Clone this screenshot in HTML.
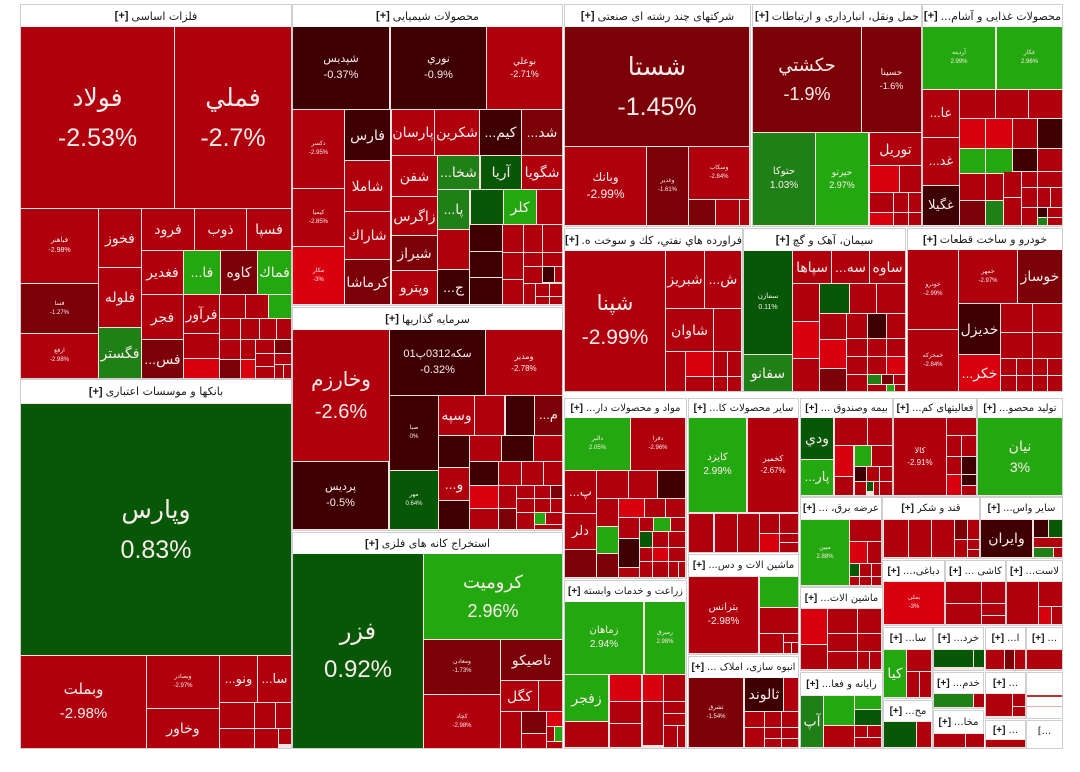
<!DOCTYPE html>
<html><head><meta charset="utf-8">
<style>
body{margin:0;width:1080px;height:772px;background:#fff;position:relative;overflow:hidden;font-family:"Liberation Sans","DejaVu Sans",sans-serif}
.s{position:absolute;box-sizing:border-box;border:1px solid #cfcfcf;background:#f8e2e2}
.h{position:absolute;background:#fff;color:#1a1a1a;font-size:11px;display:flex;justify-content:center;align-items:center;gap:3px;white-space:nowrap;overflow:hidden;font-family:"DejaVu Sans","Liberation Sans",sans-serif}
.h b{font-weight:bold;font-family:"Liberation Sans",sans-serif;flex-shrink:0}
.h bdi{min-width:0;overflow:hidden;white-space:nowrap}
.h2{font-size:10px}
.t{position:absolute;display:flex;flex-direction:column;align-items:center;justify-content:center;color:#fbecec;text-align:center;white-space:nowrap;overflow:hidden;line-height:1.45;font-size:14px}
.t span{display:block}
.L{line-height:1.6}
.r{background:#b0000d}.d{background:#7c0008}.k{background:#3e0003}.b{background:#d9000f}.g{background:#24a80f}.m{background:#1e8016}.n{background:#065806}
</style></head><body>

<!-- sections -->
<div class="s" style="left:20px;top:4px;width:272px;height:375px"></div>
<div class="h" style="left:21px;top:5px;width:270px;height:22px"><b>[+]</b> <bdi>فلزات اساسی</bdi></div>
<div class="s" style="left:20px;top:379px;width:272px;height:370px"></div>
<div class="h" style="left:21px;top:380px;width:270px;height:23px"><b>[+]</b> <bdi>بانکها و موسسات اعتباری</bdi></div>
<div class="s" style="left:292px;top:4px;width:271px;height:302px"></div>
<div class="h" style="left:293px;top:5px;width:269px;height:22px"><b>[+]</b> <bdi>محصولات شیمیایی</bdi></div>
<div class="s" style="left:292px;top:307px;width:271px;height:224px"></div>
<div class="h" style="left:293px;top:308px;width:269px;height:22px"><b>[+]</b> <bdi>سرمایه گذاریها</bdi></div>
<div class="s" style="left:292px;top:532px;width:271px;height:217px"></div>
<div class="h" style="left:293px;top:533px;width:269px;height:21px"><b>[+]</b> <bdi>استخراج کانه های فلزی</bdi></div>
<div class="s" style="left:564px;top:4px;width:187px;height:223px"></div>
<div class="h" style="left:565px;top:5px;width:185px;height:22px"><b>[+]</b> <bdi>شرکتهای چند رشته ای صنعتی</bdi></div>
<div class="s" style="left:752px;top:4px;width:170px;height:223px"></div>
<div class="h" style="left:753px;top:5px;width:168px;height:22px"><b>[+]</b> <bdi>حمل ونقل، انبارداری و ارتباطات</bdi></div>
<div class="s" style="left:922px;top:4px;width:141px;height:223px"></div>
<div class="h" style="left:923px;top:5px;width:139px;height:22px"><b>[+]</b> <bdi>محصولات غذایی و آشام...</bdi></div>
<div class="s" style="left:564px;top:228px;width:179px;height:164px"></div>
<div class="h" style="left:565px;top:229px;width:177px;height:22px"><b>[+]</b> <bdi>فراورده هاي نفتي، كك و سوخت ه...</bdi></div>
<div class="s" style="left:743px;top:228px;width:163px;height:164px"></div>
<div class="h" style="left:744px;top:229px;width:161px;height:22px"><b>[+]</b> <bdi>سیمان، آهک و گچ</bdi></div>
<div class="s" style="left:907px;top:228px;width:156px;height:164px"></div>
<div class="h" style="left:908px;top:229px;width:154px;height:21px"><b>[+]</b> <bdi>خودرو و ساخت قطعات</bdi></div>
<div class="s" style="left:564px;top:398px;width:123px;height:181px"></div>
<div class="h h2" style="left:565px;top:399px;width:121px;height:19px"><b>[+]</b> <bdi>مواد و محصولات دار...</bdi></div>
<div class="s" style="left:688px;top:398px;width:111px;height:155px"></div>
<div class="h h2" style="left:689px;top:399px;width:109px;height:19px"><b>[+]</b> <bdi>سایر محصولات کا...</bdi></div>
<div class="s" style="left:688px;top:554px;width:111px;height:101px"></div>
<div class="h h2" style="left:689px;top:555px;width:109px;height:21px"><b>[+]</b> <bdi>ماشین آلات و دس...</bdi></div>
<div class="s" style="left:688px;top:656px;width:111px;height:93px"></div>
<div class="h h2" style="left:689px;top:657px;width:109px;height:21px"><b>[+]</b> <bdi>انبوه سازی، املاک ...</bdi></div>
<div class="s" style="left:564px;top:580px;width:123px;height:169px"></div>
<div class="h h2" style="left:565px;top:581px;width:121px;height:21px"><b>[+]</b> <bdi>زراعت و خدمات وابسته</bdi></div>
<div class="s" style="left:800px;top:398px;width:93px;height:99px"></div>
<div class="h h2" style="left:801px;top:399px;width:91px;height:19px"><b>[+]</b> <bdi>بیمه وصندوق ...</bdi></div>
<div class="s" style="left:893px;top:398px;width:84px;height:99px"></div>
<div class="h h2" style="left:894px;top:399px;width:82px;height:19px"><b>[+]</b> <bdi>فعالیتهای کم...</bdi></div>
<div class="s" style="left:977px;top:398px;width:86px;height:99px"></div>
<div class="h h2" style="left:978px;top:399px;width:84px;height:19px"><b>[+]</b> <bdi>تولید محصو...</bdi></div>
<div class="s" style="left:800px;top:497px;width:82px;height:90px"></div>
<div class="h h2" style="left:801px;top:498px;width:80px;height:21px"><b>[+]</b> <bdi>عرضه برق، ...</bdi></div>
<div class="s" style="left:882px;top:497px;width:98px;height:62px"></div>
<div class="h h2" style="left:883px;top:498px;width:96px;height:21px"><b>[+]</b> <bdi>قند و شکر</bdi></div>
<div class="s" style="left:980px;top:497px;width:83px;height:62px"></div>
<div class="h h2" style="left:981px;top:498px;width:81px;height:21px"><b>[+]</b> <bdi>سایر واس...</bdi></div>
<div class="s" style="left:882px;top:560px;width:63px;height:66px"></div>
<div class="h h2" style="left:883px;top:561px;width:61px;height:20px"><b>[+]</b> <bdi>دباغی،...</bdi></div>
<div class="s" style="left:945px;top:560px;width:61px;height:66px"></div>
<div class="h h2" style="left:946px;top:561px;width:59px;height:20px"><b>[+]</b> <bdi>کاشی ...</bdi></div>
<div class="s" style="left:1006px;top:560px;width:57px;height:66px"></div>
<div class="h h2" style="left:1007px;top:561px;width:55px;height:20px"><b>[+]</b> <bdi>لاست...</bdi></div>
<div class="s" style="left:800px;top:587px;width:83px;height:84px"></div>
<div class="h h2" style="left:801px;top:588px;width:81px;height:20px"><b>[+]</b> <bdi>ماشین آلات...</bdi></div>
<div class="s" style="left:800px;top:672px;width:83px;height:77px"></div>
<div class="h h2" style="left:801px;top:673px;width:81px;height:22px"><b>[+]</b> <bdi>رایانه و فعا...</bdi></div>
<div class="s" style="left:883px;top:627px;width:50px;height:72px"></div>
<div class="h h2" style="left:884px;top:628px;width:48px;height:21px"><b>[+]</b> <bdi>سا...</bdi></div>
<div class="s" style="left:933px;top:627px;width:51px;height:44px"></div>
<div class="h h2" style="left:934px;top:628px;width:49px;height:21px"><b>[+]</b> <bdi>خرد...</bdi></div>
<div class="s" style="left:985px;top:627px;width:41px;height:44px"></div>
<div class="h h2" style="left:986px;top:628px;width:39px;height:21px"><b>[+]</b> <bdi>ا...</bdi></div>
<div class="s" style="left:1026px;top:627px;width:37px;height:44px"></div>
<div class="h h2" style="left:1027px;top:628px;width:35px;height:21px"><b>[+]</b> ...</div>
<div class="s" style="left:933px;top:672px;width:51px;height:37px"></div>
<div class="h h2" style="left:934px;top:673px;width:49px;height:20px"><b>[+]</b> <bdi>خدم...</bdi></div>
<div class="s" style="left:985px;top:672px;width:41px;height:47px"></div>
<div class="h h2" style="left:986px;top:673px;width:39px;height:20px"><b>[+]</b> ...</div>
<div class="s" style="left:1026px;top:672px;width:37px;height:47px;background:#fff"></div>
<div style="position:absolute;left:1027px;top:695px;width:35px;height:2px;background:#c03030"></div>
<div style="position:absolute;left:1027px;top:706px;width:35px;height:1px;background:#e0b0b0"></div>
<div class="s" style="left:883px;top:700px;width:50px;height:49px"></div>
<div class="h h2" style="left:884px;top:701px;width:48px;height:20px"><b>[+]</b> <bdi>مح...</bdi></div>
<div class="s" style="left:933px;top:710px;width:51px;height:39px"></div>
<div class="h h2" style="left:934px;top:711px;width:49px;height:22px"><b>[+]</b> <bdi>مخا...</bdi></div>
<div class="s" style="left:985px;top:720px;width:41px;height:29px"></div>
<div class="h h2" style="left:986px;top:721px;width:39px;height:18px"><b>[+]</b> ...</div>
<div class="s" style="left:1026px;top:720px;width:37px;height:29px;background:#fff"></div>
<div class="h h2" style="left:1027px;top:721px;width:35px;height:20px">[...</div>

<!-- S1 فلزات اساسی -->
<div class="t r L" style="left:21px;top:27px;width:153px;height:181px;font-size:25px"><span>فولاد</span><span>-2.53%</span></div>
<div class="t r L" style="left:175px;top:27px;width:116px;height:181px;font-size:25px"><span>فملي</span><span>-2.7%</span></div>
<div class="t r" style="left:21px;top:209px;width:77px;height:74px;font-size:7px"><span>فباهنر</span><span>-2.98%</span></div>
<div class="t d" style="left:21px;top:284px;width:77px;height:49px;font-size:6px"><span>فسا</span><span>-1.27%</span></div>
<div class="t r" style="left:21px;top:334px;width:77px;height:44px;font-size:6px"><span>ارفع</span><span>-2.98%</span></div>
<div class="t r" style="left:99px;top:209px;width:42px;height:58px"><span>فخوز</span></div>
<div class="t r" style="left:99px;top:268px;width:42px;height:59px"><span>فلوله</span></div>
<div class="t m" style="left:99px;top:328px;width:42px;height:50px"><span>فگستر</span></div>
<div class="t r" style="left:142px;top:209px;width:52px;height:41px"><span>فرود</span></div>
<div class="t r" style="left:195px;top:209px;width:51px;height:41px"><span>ذوب</span></div>
<div class="t r" style="left:247px;top:209px;width:44px;height:41px"><span>فسپا</span></div>
<div class="t r" style="left:142px;top:251px;width:41px;height:43px"><span>فغدير</span></div>
<div class="t g" style="left:184px;top:251px;width:36px;height:43px"><span>...فا</span></div>
<div class="t d" style="left:221px;top:251px;width:36px;height:43px"><span>کاوه</span></div>
<div class="t g" style="left:258px;top:251px;width:33px;height:43px"><span>فماك</span></div>
<div class="t r" style="left:142px;top:295px;width:41px;height:44px"><span>فجر</span></div>
<div class="t r" style="left:184px;top:295px;width:35px;height:38px"><span>فرآور</span></div>
<div class="t r" style="left:184px;top:334px;width:35px;height:24px"></div>
<div class="t b" style="left:184px;top:359px;width:35px;height:19px"></div>
<div class="t d" style="left:142px;top:340px;width:41px;height:38px"><span>...فس</span></div>
<div class="t r" style="left:220px;top:295px;width:25px;height:23px"></div>
<div class="t r" style="left:246px;top:295px;width:22px;height:23px"></div>
<div class="t g" style="left:269px;top:295px;width:22px;height:23px"></div>
<div class="t r" style="left:220px;top:319px;width:20px;height:20px"></div>
<div class="t r" style="left:241px;top:319px;width:18px;height:20px"></div>
<div class="t r" style="left:260px;top:319px;width:16px;height:20px"></div>
<div class="t r" style="left:277px;top:319px;width:14px;height:20px"></div>
<div class="t r" style="left:220px;top:340px;width:20px;height:19px"></div>
<div class="t r" style="left:241px;top:340px;width:14px;height:19px"></div>
<div class="t r" style="left:256px;top:340px;width:18px;height:13px"></div>
<div class="t d" style="left:275px;top:340px;width:16px;height:13px"></div>
<div class="t d" style="left:220px;top:360px;width:20px;height:18px"></div>
<div class="t b" style="left:241px;top:360px;width:14px;height:18px"></div>
<div class="t r" style="left:256px;top:354px;width:18px;height:12px"></div>
<div class="t r" style="left:275px;top:354px;width:16px;height:10px"></div>
<div class="t r" style="left:256px;top:367px;width:18px;height:11px"></div>
<div class="t r" style="left:275px;top:365px;width:8px;height:13px"></div>
<div class="t r" style="left:284px;top:365px;width:7px;height:13px"></div>

<!-- S2 banks -->
<div class="t n L" style="left:21px;top:404px;width:270px;height:251px;font-size:25px"><span>وپارس</span><span>0.83%</span></div>
<div class="t r L" style="left:21px;top:656px;width:125px;height:92px;font-size:15px"><span>وبملت</span><span>-2.98%</span></div>
<div class="t r" style="left:147px;top:656px;width:72px;height:52px;font-size:6px"><span>وبصادر</span><span>-2.97%</span></div>
<div class="t r" style="left:147px;top:709px;width:72px;height:39px"><span>وخاور</span></div>
<div class="t r" style="left:220px;top:656px;width:37px;height:46px;font-size:13px"><span>...ونو</span></div>
<div class="t r" style="left:258px;top:656px;width:33px;height:46px;font-size:13px"><span>...سا</span></div>
<div class="t r" style="left:220px;top:703px;width:34px;height:25px"></div>
<div class="t r" style="left:255px;top:703px;width:20px;height:25px"></div>
<div class="t r" style="left:276px;top:703px;width:15px;height:25px"></div>
<div class="t r" style="left:220px;top:729px;width:34px;height:19px"></div>
<div class="t r" style="left:255px;top:729px;width:23px;height:19px"></div>
<div class="t r" style="left:279px;top:729px;width:12px;height:15px"></div>

<!-- S3 chemicals -->
<div class="t k" style="left:293px;top:27px;width:96px;height:82px;font-size:11px"><span>شپديس</span><span>-0.37%</span></div>
<div class="t k" style="left:391px;top:27px;width:95px;height:82px;font-size:11px"><span>نوري</span><span>-0.9%</span></div>
<div class="t r" style="left:487px;top:27px;width:75px;height:82px;font-size:9px"><span>بوعلي</span><span>-2.71%</span></div>
<div class="t r" style="left:293px;top:110px;width:51px;height:78px;font-size:6px"><span>دکسر</span><span>-2.95%</span></div>
<div class="t r" style="left:293px;top:189px;width:51px;height:57px;font-size:6px"><span>کیمیا</span><span>-2.85%</span></div>
<div class="t b" style="left:293px;top:247px;width:51px;height:57px;font-size:6px"><span>مکار</span><span>-3%</span></div>
<div class="t k" style="left:345px;top:110px;width:45px;height:50px"><span>فارس</span></div>
<div class="t r" style="left:345px;top:161px;width:45px;height:50px"><span>شاملا</span></div>
<div class="t r" style="left:345px;top:212px;width:45px;height:47px"><span>شاراك</span></div>
<div class="t d" style="left:345px;top:260px;width:45px;height:44px"><span>کرماشا</span></div>
<div class="t r" style="left:392px;top:110px;width:42px;height:45px"><span>پارسان</span></div>
<div class="t r" style="left:435px;top:110px;width:44px;height:45px"><span>شکرين</span></div>
<div class="t k" style="left:480px;top:110px;width:41px;height:45px"><span>...کیم</span></div>
<div class="t d" style="left:522px;top:110px;width:40px;height:45px"><span>...شد</span></div>
<div class="t r" style="left:392px;top:156px;width:45px;height:40px"><span>شفن</span></div>
<div class="t r" style="left:392px;top:197px;width:45px;height:38px"><span>زاگرس</span></div>
<div class="t d" style="left:392px;top:236px;width:45px;height:34px"><span>شيراز</span></div>
<div class="t r" style="left:392px;top:271px;width:45px;height:33px"><span>وپترو</span></div>
<div class="t m" style="left:438px;top:156px;width:41px;height:33px"><span>...شخا</span></div>
<div class="t n" style="left:481px;top:156px;width:40px;height:33px"><span>آريا</span></div>
<div class="t r" style="left:522px;top:156px;width:40px;height:33px"><span>شگويا</span></div>
<div class="t m" style="left:438px;top:190px;width:31px;height:39px"><span>...پا</span></div>
<div class="t n" style="left:471px;top:190px;width:32px;height:34px"></div>
<div class="t g" style="left:504px;top:190px;width:32px;height:34px"><span>کلر</span></div>
<div class="t r" style="left:537px;top:190px;width:25px;height:34px"></div>
<div class="t r" style="left:438px;top:230px;width:31px;height:39px"></div>
<div class="t k" style="left:438px;top:270px;width:31px;height:34px"><span>...ج</span></div>
<div class="t k" style="left:470px;top:225px;width:32px;height:26px"></div>
<div class="t k" style="left:470px;top:252px;width:32px;height:25px"></div>
<div class="t k" style="left:470px;top:278px;width:32px;height:26px"></div>
<div class="t r" style="left:503px;top:225px;width:20px;height:27px"></div>
<div class="t r" style="left:524px;top:225px;width:18px;height:27px"></div>
<div class="t r" style="left:543px;top:225px;width:19px;height:27px"></div>
<div class="t r" style="left:503px;top:253px;width:20px;height:26px"></div>
<div class="t r" style="left:524px;top:253px;width:18px;height:13px"></div>
<div class="t r" style="left:543px;top:253px;width:19px;height:13px"></div>
<div class="t r" style="left:503px;top:280px;width:20px;height:24px"></div>
<div class="t r" style="left:524px;top:267px;width:18px;height:16px"></div>
<div class="t k" style="left:543px;top:267px;width:11px;height:15px"></div>
<div class="t r" style="left:555px;top:267px;width:7px;height:15px"></div>
<div class="t r" style="left:524px;top:284px;width:11px;height:20px"></div>
<div class="t r" style="left:536px;top:284px;width:13px;height:12px"></div>
<div class="t r" style="left:550px;top:284px;width:12px;height:12px"></div>
<div class="t r" style="left:536px;top:297px;width:13px;height:7px"></div>
<div class="t r" style="left:550px;top:297px;width:12px;height:7px"></div>

<!-- S4 investment -->
<div class="t r L" style="left:293px;top:330px;width:96px;height:131px;font-size:20px"><span>وخارزم</span><span>-2.6%</span></div>
<div class="t k" style="left:293px;top:462px;width:95px;height:67px;font-size:11px"><span>پرديس</span><span>-0.5%</span></div>
<div class="t k" style="left:390px;top:330px;width:95px;height:65px;font-size:11px"><span>سکه0312پ01</span><span>-0.32%</span></div>
<div class="t r" style="left:486px;top:330px;width:76px;height:65px;font-size:8px"><span>ومدير</span><span>-2.78%</span></div>
<div class="t k" style="left:390px;top:396px;width:48px;height:74px;font-size:6px"><span>صبا</span><span>0%</span></div>
<div class="t n" style="left:390px;top:471px;width:48px;height:58px;font-size:6px"><span>مهر</span><span>0.64%</span></div>
<div class="t r" style="left:439px;top:396px;width:35px;height:39px"><span>وسپه</span></div>
<div class="t r" style="left:475px;top:396px;width:29px;height:39px"></div>
<div class="t k" style="left:506px;top:396px;width:28px;height:39px"></div>
<div class="t d" style="left:535px;top:396px;width:27px;height:39px;font-size:13px"><span>...م</span></div>
<div class="t k" style="left:439px;top:436px;width:30px;height:31px"></div>
<div class="t r" style="left:439px;top:468px;width:30px;height:32px"><span>...و</span></div>
<div class="t k" style="left:439px;top:501px;width:30px;height:28px"></div>
<div class="t r" style="left:470px;top:436px;width:31px;height:25px"></div>
<div class="t k" style="left:502px;top:436px;width:31px;height:25px"></div>
<div class="t r" style="left:534px;top:436px;width:28px;height:25px"></div>
<div class="t k" style="left:470px;top:462px;width:28px;height:23px"></div>
<div class="t r" style="left:499px;top:462px;width:22px;height:23px"></div>
<div class="t r" style="left:522px;top:462px;width:21px;height:23px"></div>
<div class="t r" style="left:544px;top:462px;width:18px;height:23px"></div>
<div class="t b" style="left:470px;top:486px;width:28px;height:22px"></div>
<div class="t r" style="left:499px;top:486px;width:17px;height:22px"></div>
<div class="t r" style="left:517px;top:486px;width:17px;height:12px"></div>
<div class="t r" style="left:535px;top:486px;width:15px;height:12px"></div>
<div class="t d" style="left:551px;top:486px;width:11px;height:12px"></div>
<div class="t r" style="left:470px;top:509px;width:28px;height:20px"></div>
<div class="t d" style="left:499px;top:509px;width:17px;height:20px"></div>
<div class="t r" style="left:517px;top:499px;width:17px;height:13px"></div>
<div class="t r" style="left:535px;top:499px;width:15px;height:13px"></div>
<div class="t r" style="left:551px;top:499px;width:11px;height:13px"></div>
<div class="t r" style="left:517px;top:513px;width:17px;height:16px"></div>
<div class="t g" style="left:535px;top:513px;width:10px;height:11px"></div>
<div class="t r" style="left:546px;top:513px;width:16px;height:11px"></div>
<div class="t r" style="left:535px;top:525px;width:27px;height:4px"></div>

<!-- S5 mines -->
<div class="t n L" style="left:293px;top:554px;width:130px;height:194px;font-size:24px"><span>فزر</span><span>0.92%</span></div>
<div class="t g L" style="left:424px;top:554px;width:138px;height:85px;font-size:18px"><span>کروميت</span><span>2.96%</span></div>
<div class="t d" style="left:424px;top:640px;width:76px;height:54px;font-size:6px"><span>ومعادن</span><span>-1.73%</span></div>
<div class="t r" style="left:424px;top:695px;width:76px;height:53px;font-size:6px"><span>کچاد</span><span>-2.98%</span></div>
<div class="t d" style="left:501px;top:640px;width:61px;height:40px"><span>تاصيکو</span></div>
<div class="t r" style="left:501px;top:681px;width:37px;height:30px"><span>کگل</span></div>
<div class="t r" style="left:539px;top:681px;width:23px;height:30px"></div>
<div class="t r" style="left:501px;top:712px;width:20px;height:36px"></div>
<div class="t d" style="left:522px;top:712px;width:24px;height:21px"></div>
<div class="t b" style="left:547px;top:712px;width:15px;height:14px"></div>
<div class="t r" style="left:522px;top:734px;width:24px;height:14px"></div>
<div class="t r" style="left:547px;top:727px;width:7px;height:14px"></div>
<div class="t g" style="left:555px;top:727px;width:7px;height:14px"></div>
<div class="t r" style="left:547px;top:742px;width:15px;height:6px"></div>

<!-- S6 multi -->
<div class="t d L" style="left:565px;top:27px;width:184px;height:119px;font-size:25px"><span>شستا</span><span>-1.45%</span></div>
<div class="t r" style="left:565px;top:147px;width:81px;height:78px;font-size:12px"><span>وبانك</span><span>-2.99%</span></div>
<div class="t d" style="left:647px;top:147px;width:41px;height:78px;font-size:6px"><span>وغدير</span><span>-1.61%</span></div>
<div class="t r" style="left:689px;top:147px;width:60px;height:52px;font-size:6px"><span>وسکاب</span><span>-2.84%</span></div>
<div class="t d" style="left:689px;top:200px;width:26px;height:25px"></div>
<div class="t r" style="left:716px;top:200px;width:23px;height:25px"></div>
<div class="t r" style="left:740px;top:200px;width:9px;height:25px"></div>

<!-- S7 transport -->
<div class="t d L" style="left:753px;top:27px;width:108px;height:105px;font-size:18px"><span>حکشتي</span><span>-1.9%</span></div>
<div class="t d" style="left:862px;top:27px;width:59px;height:105px;font-size:9px"><span>حسينا</span><span>-1.6%</span></div>
<div class="t m" style="left:753px;top:133px;width:62px;height:92px;font-size:10px"><span>حتوکا</span><span>1.03%</span></div>
<div class="t g" style="left:816px;top:133px;width:52px;height:92px;font-size:9px"><span>حپرتو</span><span>2.97%</span></div>
<div class="t r" style="left:870px;top:133px;width:51px;height:32px"><span>توريل</span></div>
<div class="t b" style="left:870px;top:166px;width:29px;height:26px"></div>
<div class="t r" style="left:900px;top:166px;width:21px;height:26px"></div>
<div class="t r" style="left:870px;top:193px;width:23px;height:19px"></div>
<div class="t r" style="left:894px;top:193px;width:14px;height:19px"></div>
<div class="t r" style="left:909px;top:193px;width:12px;height:19px"></div>
<div class="t b" style="left:870px;top:213px;width:23px;height:12px"></div>
<div class="t r" style="left:894px;top:213px;width:14px;height:12px"></div>
<div class="t r" style="left:909px;top:213px;width:12px;height:12px"></div>

<!-- S8 food -->
<div class="t g" style="left:923px;top:27px;width:72px;height:62px;font-size:6px"><span>آردينه</span><span>2.99%</span></div>
<div class="t g" style="left:997px;top:27px;width:65px;height:62px;font-size:6px"><span>غکار</span><span>2.96%</span></div>
<div class="t r" style="left:923px;top:90px;width:36px;height:47px;font-size:13px"><span>...عا</span></div>
<div class="t r" style="left:923px;top:138px;width:36px;height:47px;font-size:13px"><span>...غد</span></div>
<div class="t k" style="left:923px;top:186px;width:36px;height:39px;font-size:13px"><span>غگيلا</span></div>
<div class="t r" style="left:960px;top:90px;width:35px;height:28px"></div>
<div class="t r" style="left:996px;top:90px;width:32px;height:28px"></div>
<div class="t r" style="left:1029px;top:90px;width:33px;height:28px"></div>
<div class="t b" style="left:960px;top:119px;width:25px;height:29px"></div>
<div class="t b" style="left:986px;top:119px;width:26px;height:29px"></div>
<div class="t r" style="left:1013px;top:119px;width:24px;height:29px"></div>
<div class="t k" style="left:1038px;top:119px;width:24px;height:29px"></div>
<div class="t g" style="left:960px;top:149px;width:25px;height:24px"></div>
<div class="t g" style="left:986px;top:149px;width:26px;height:24px"></div>
<div class="t k" style="left:1013px;top:149px;width:24px;height:22px"></div>
<div class="t r" style="left:1038px;top:149px;width:24px;height:22px"></div>
<div class="t r" style="left:960px;top:174px;width:25px;height:26px"></div>
<div class="t d" style="left:960px;top:201px;width:25px;height:24px"></div>
<div class="t r" style="left:986px;top:174px;width:17px;height:26px"></div>
<div class="t m" style="left:986px;top:201px;width:17px;height:24px"></div>
<div class="t r" style="left:1004px;top:172px;width:17px;height:25px"></div>
<div class="t r" style="left:1022px;top:172px;width:15px;height:15px"></div>
<div class="t r" style="left:1038px;top:172px;width:24px;height:15px"></div>
<div class="t r" style="left:1004px;top:198px;width:17px;height:27px"></div>
<div class="t r" style="left:1022px;top:188px;width:15px;height:19px"></div>
<div class="t r" style="left:1038px;top:188px;width:12px;height:19px"></div>
<div class="t r" style="left:1051px;top:188px;width:11px;height:19px"></div>
<div class="t r" style="left:1022px;top:208px;width:15px;height:17px"></div>
<div class="t k" style="left:1038px;top:208px;width:9px;height:9px"></div>
<div class="t r" style="left:1048px;top:208px;width:14px;height:9px"></div>
<div class="t m" style="left:1038px;top:218px;width:9px;height:7px"></div>
<div class="t r" style="left:1048px;top:218px;width:14px;height:7px"></div>

<!-- S9 oil -->
<div class="t r L" style="left:565px;top:251px;width:100px;height:140px;font-size:21px"><span>شپنا</span><span>-2.99%</span></div>
<div class="t r" style="left:666px;top:251px;width:38px;height:57px"><span>شبريز</span></div>
<div class="t r" style="left:705px;top:251px;width:36px;height:57px"><span>...ش</span></div>
<div class="t r" style="left:666px;top:309px;width:47px;height:42px"><span>شاوان</span></div>
<div class="t r" style="left:714px;top:309px;width:27px;height:42px"></div>
<div class="t r" style="left:666px;top:352px;width:19px;height:39px"></div>
<div class="t b" style="left:686px;top:352px;width:27px;height:24px"></div>
<div class="t r" style="left:686px;top:377px;width:27px;height:14px"></div>
<div class="t r" style="left:714px;top:352px;width:13px;height:24px"></div>
<div class="t r" style="left:728px;top:352px;width:13px;height:24px"></div>
<div class="t r" style="left:714px;top:377px;width:13px;height:14px"></div>
<div class="t r" style="left:728px;top:377px;width:13px;height:14px"></div>

<!-- S10 cement -->
<div class="t n" style="left:744px;top:251px;width:48px;height:103px;font-size:7px"><span>سمازن</span><span>0.11%</span></div>
<div class="t m" style="left:744px;top:355px;width:48px;height:36px"><span>سفانو</span></div>
<div class="t r" style="left:793px;top:251px;width:38px;height:32px"><span>سپاها</span></div>
<div class="t r" style="left:832px;top:251px;width:37px;height:32px"><span>...سه</span></div>
<div class="t r" style="left:870px;top:251px;width:35px;height:32px"><span>ساوه</span></div>
<div class="t r" style="left:793px;top:284px;width:26px;height:37px"></div>
<div class="t n" style="left:820px;top:284px;width:29px;height:29px"></div>
<div class="t r" style="left:850px;top:284px;width:26px;height:29px"></div>
<div class="t r" style="left:877px;top:284px;width:28px;height:29px"></div>
<div class="t b" style="left:793px;top:322px;width:26px;height:36px"></div>
<div class="t r" style="left:793px;top:359px;width:26px;height:32px"></div>
<div class="t r" style="left:820px;top:314px;width:26px;height:25px"></div>
<div class="t r" style="left:847px;top:314px;width:20px;height:24px"></div>
<div class="t k" style="left:868px;top:314px;width:18px;height:24px"></div>
<div class="t r" style="left:887px;top:314px;width:18px;height:24px"></div>
<div class="t b" style="left:820px;top:340px;width:26px;height:28px"></div>
<div class="t d" style="left:820px;top:369px;width:26px;height:22px"></div>
<div class="t r" style="left:847px;top:339px;width:20px;height:17px"></div>
<div class="t r" style="left:868px;top:339px;width:18px;height:17px"></div>
<div class="t r" style="left:887px;top:339px;width:18px;height:17px"></div>
<div class="t r" style="left:847px;top:357px;width:20px;height:17px"></div>
<div class="t r" style="left:868px;top:357px;width:18px;height:17px"></div>
<div class="t b" style="left:887px;top:357px;width:18px;height:17px"></div>
<div class="t r" style="left:847px;top:375px;width:20px;height:16px"></div>
<div class="t m" style="left:868px;top:375px;width:13px;height:9px"></div>
<div class="t d" style="left:882px;top:375px;width:11px;height:9px"></div>
<div class="t r" style="left:894px;top:375px;width:11px;height:9px"></div>
<div class="t r" style="left:868px;top:385px;width:18px;height:6px"></div>
<div class="t g" style="left:887px;top:385px;width:7px;height:6px"></div>
<div class="t r" style="left:895px;top:385px;width:10px;height:6px"></div>

<!-- S11 auto -->
<div class="t r" style="left:908px;top:250px;width:50px;height:79px;font-size:6px"><span>خودرو</span><span>-2.99%</span></div>
<div class="t r" style="left:908px;top:330px;width:50px;height:61px;font-size:6px"><span>خمحرکه</span><span>-2.84%</span></div>
<div class="t r" style="left:959px;top:250px;width:58px;height:53px;font-size:6px"><span>خمهر</span><span>-2.97%</span></div>
<div class="t d" style="left:1018px;top:250px;width:44px;height:53px"><span>خوساز</span></div>
<div class="t k" style="left:959px;top:304px;width:41px;height:50px"><span>خديزل</span></div>
<div class="t b" style="left:959px;top:355px;width:41px;height:36px"><span>...خکر</span></div>
<div class="t r" style="left:1001px;top:304px;width:31px;height:28px"></div>
<div class="t r" style="left:1033px;top:304px;width:29px;height:28px"></div>
<div class="t r" style="left:1001px;top:333px;width:31px;height:25px"></div>
<div class="t r" style="left:1033px;top:333px;width:29px;height:25px"></div>
<div class="t r" style="left:1001px;top:359px;width:15px;height:16px"></div>
<div class="t r" style="left:1017px;top:359px;width:15px;height:16px"></div>
<div class="t r" style="left:1033px;top:359px;width:14px;height:16px"></div>
<div class="t r" style="left:1048px;top:359px;width:14px;height:16px"></div>
<div class="t r" style="left:1001px;top:376px;width:15px;height:15px"></div>
<div class="t r" style="left:1017px;top:376px;width:15px;height:15px"></div>
<div class="t r" style="left:1033px;top:376px;width:14px;height:15px"></div>
<div class="t r" style="left:1048px;top:376px;width:14px;height:15px"></div>

<!-- S12 -->
<div class="t g" style="left:565px;top:418px;width:65px;height:52px;font-size:6px"><span>دالبر</span><span>2.05%</span></div>
<div class="t r" style="left:631px;top:418px;width:54px;height:52px;font-size:6px"><span>دفرا</span><span>-2.96%</span></div>
<div class="t r" style="left:565px;top:471px;width:31px;height:42px;font-size:13px"><span>...پ</span></div>
<div class="t r" style="left:565px;top:514px;width:31px;height:35px;font-size:13px"><span>دلر</span></div>
<div class="t d" style="left:565px;top:550px;width:31px;height:27px"></div>
<div class="t r" style="left:597px;top:471px;width:31px;height:27px"></div>
<div class="t r" style="left:629px;top:471px;width:28px;height:27px"></div>
<div class="t k" style="left:658px;top:471px;width:27px;height:27px"></div>
<div class="t r" style="left:597px;top:499px;width:21px;height:27px"></div>
<div class="t b" style="left:619px;top:499px;width:25px;height:18px"></div>
<div class="t r" style="left:645px;top:499px;width:20px;height:18px"></div>
<div class="t r" style="left:666px;top:499px;width:19px;height:18px"></div>
<div class="t g" style="left:597px;top:527px;width:21px;height:26px"></div>
<div class="t d" style="left:597px;top:554px;width:21px;height:23px"></div>
<div class="t r" style="left:619px;top:518px;width:20px;height:20px"></div>
<div class="t k" style="left:619px;top:539px;width:20px;height:28px"></div>
<div class="t r" style="left:619px;top:568px;width:20px;height:9px"></div>
<div class="t r" style="left:640px;top:518px;width:13px;height:13px"></div>
<div class="t g" style="left:654px;top:518px;width:16px;height:13px"></div>
<div class="t r" style="left:671px;top:518px;width:14px;height:13px"></div>
<div class="t n" style="left:640px;top:532px;width:12px;height:15px"></div>
<div class="t r" style="left:653px;top:532px;width:15px;height:15px"></div>
<div class="t r" style="left:669px;top:532px;width:16px;height:15px"></div>
<div class="t r" style="left:640px;top:548px;width:12px;height:13px"></div>
<div class="t b" style="left:653px;top:548px;width:15px;height:13px"></div>
<div class="t r" style="left:669px;top:548px;width:16px;height:13px"></div>
<div class="t r" style="left:640px;top:562px;width:12px;height:15px"></div>
<div class="t r" style="left:653px;top:562px;width:15px;height:15px"></div>
<div class="t r" style="left:669px;top:562px;width:9px;height:15px"></div>
<div class="t r" style="left:679px;top:562px;width:6px;height:15px"></div>

<!-- S13 -->
<div class="t g" style="left:689px;top:418px;width:57px;height:94px;font-size:10px"><span>کايزد</span><span>2.99%</span></div>
<div class="t r" style="left:748px;top:418px;width:50px;height:94px;font-size:8px"><span>کخمير</span><span>-2.67%</span></div>
<div class="t r" style="left:689px;top:514px;width:24px;height:38px"></div>
<div class="t r" style="left:715px;top:514px;width:22px;height:38px"></div>
<div class="t r" style="left:738px;top:514px;width:21px;height:38px"></div>
<div class="t r" style="left:760px;top:514px;width:19px;height:19px"></div>
<div class="t r" style="left:780px;top:514px;width:18px;height:19px"></div>
<div class="t b" style="left:760px;top:534px;width:19px;height:18px"></div>
<div class="t r" style="left:780px;top:534px;width:18px;height:8px"></div>
<div class="t r" style="left:780px;top:543px;width:18px;height:9px"></div>

<!-- S14 -->
<div class="t r" style="left:689px;top:577px;width:69px;height:76px;font-size:10px"><span>بترانس</span><span>-2.98%</span></div>
<div class="t g" style="left:760px;top:577px;width:38px;height:30px"></div>
<div class="t r" style="left:760px;top:608px;width:38px;height:25px"></div>
<div class="t r" style="left:760px;top:634px;width:23px;height:19px"></div>
<div class="t r" style="left:784px;top:634px;width:14px;height:8px"></div>
<div class="t r" style="left:784px;top:643px;width:7px;height:10px"></div>
<div class="t r" style="left:792px;top:643px;width:6px;height:10px"></div>

<!-- S15 -->
<div class="t d" style="left:689px;top:678px;width:54px;height:69px;font-size:6px"><span>ثشرق</span><span>-1.54%</span></div>
<div class="t k" style="left:745px;top:678px;width:38px;height:33px"><span>ثالوند</span></div>
<div class="t r" style="left:784px;top:678px;width:14px;height:33px"></div>
<div class="t r" style="left:745px;top:712px;width:19px;height:15px"></div>
<div class="t r" style="left:765px;top:712px;width:16px;height:15px"></div>
<div class="t r" style="left:782px;top:712px;width:16px;height:15px"></div>
<div class="t r" style="left:745px;top:728px;width:19px;height:19px"></div>
<div class="t r" style="left:765px;top:728px;width:16px;height:10px"></div>
<div class="t r" style="left:782px;top:728px;width:16px;height:10px"></div>
<div class="t r" style="left:765px;top:739px;width:16px;height:8px"></div>
<div class="t r" style="left:782px;top:739px;width:16px;height:8px"></div>

<!-- S16 -->
<div class="t g" style="left:565px;top:602px;width:78px;height:72px;font-size:10px"><span>زماهان</span><span>2.94%</span></div>
<div class="t g" style="left:645px;top:602px;width:40px;height:72px;font-size:6px"><span>زميرق</span><span>2.98%</span></div>
<div class="t g" style="left:565px;top:675px;width:43px;height:46px"><span>زفجر</span></div>
<div class="t r" style="left:565px;top:722px;width:43px;height:25px"></div>
<div class="t b" style="left:610px;top:675px;width:31px;height:26px"></div>
<div class="t r" style="left:610px;top:702px;width:31px;height:21px"></div>
<div class="t r" style="left:610px;top:724px;width:31px;height:23px"></div>
<div class="t b" style="left:643px;top:675px;width:20px;height:26px"></div>
<div class="t r" style="left:664px;top:675px;width:21px;height:26px"></div>
<div class="t r" style="left:643px;top:702px;width:20px;height:43px"></div>
<div class="t r" style="left:664px;top:702px;width:21px;height:11px"></div>
<div class="t r" style="left:664px;top:714px;width:21px;height:11px"></div>
<div class="t r" style="left:664px;top:726px;width:13px;height:21px"></div>
<div class="t r" style="left:678px;top:726px;width:7px;height:21px"></div>

<!-- S17 -->
<div class="t n" style="left:801px;top:418px;width:32px;height:41px"><span>ودي</span></div>
<div class="t g" style="left:801px;top:460px;width:32px;height:35px;font-size:13px"><span>...پار</span></div>
<div class="t r" style="left:835px;top:418px;width:32px;height:27px"></div>
<div class="t r" style="left:868px;top:418px;width:24px;height:27px"></div>
<div class="t b" style="left:835px;top:446px;width:18px;height:30px"></div>
<div class="t g" style="left:855px;top:446px;width:16px;height:20px"></div>
<div class="t r" style="left:872px;top:446px;width:20px;height:20px"></div>
<div class="t r" style="left:835px;top:477px;width:18px;height:18px"></div>
<div class="t k" style="left:855px;top:467px;width:11px;height:14px"></div>
<div class="t r" style="left:867px;top:467px;width:12px;height:14px"></div>
<div class="t r" style="left:880px;top:467px;width:12px;height:14px"></div>
<div class="t r" style="left:855px;top:482px;width:11px;height:13px"></div>
<div class="t n" style="left:867px;top:482px;width:6px;height:9px"></div>
<div class="t r" style="left:874px;top:482px;width:5px;height:13px"></div>
<div class="t r" style="left:880px;top:482px;width:12px;height:13px"></div>

<!-- S18 -->
<div class="t r" style="left:894px;top:418px;width:52px;height:77px;font-size:8px"><span>كالا</span><span>-2.91%</span></div>
<div class="t r" style="left:947px;top:418px;width:29px;height:17px"></div>
<div class="t r" style="left:947px;top:436px;width:14px;height:20px"></div>
<div class="t r" style="left:962px;top:436px;width:14px;height:20px"></div>
<div class="t r" style="left:947px;top:457px;width:14px;height:17px"></div>
<div class="t k" style="left:962px;top:457px;width:14px;height:17px"></div>
<div class="t b" style="left:947px;top:475px;width:14px;height:20px"></div>
<div class="t k" style="left:962px;top:475px;width:14px;height:10px"></div>
<div class="t r" style="left:962px;top:486px;width:14px;height:9px"></div>

<!-- S19 -->
<div class="t g" style="left:978px;top:418px;width:84px;height:77px;font-size:14px"><span>نيان</span><span>3%</span></div>

<!-- S20 -->
<div class="t g" style="left:801px;top:520px;width:48px;height:65px;font-size:6px"><span>مبين</span><span>2.88%</span></div>
<div class="t r" style="left:850px;top:520px;width:31px;height:21px"></div>
<div class="t b" style="left:850px;top:542px;width:17px;height:21px"></div>
<div class="t r" style="left:868px;top:542px;width:13px;height:21px"></div>
<div class="t n" style="left:850px;top:564px;width:9px;height:12px"></div>
<div class="t r" style="left:860px;top:564px;width:11px;height:12px"></div>
<div class="t r" style="left:872px;top:564px;width:9px;height:12px"></div>
<div class="t r" style="left:850px;top:577px;width:9px;height:8px"></div>
<div class="t r" style="left:860px;top:577px;width:11px;height:8px"></div>
<div class="t r" style="left:872px;top:577px;width:9px;height:8px"></div>

<!-- S21 -->
<div class="t r" style="left:884px;top:520px;width:24px;height:37px"></div>
<div class="t r" style="left:909px;top:520px;width:22px;height:37px"></div>
<div class="t r" style="left:932px;top:520px;width:22px;height:37px"></div>
<div class="t d" style="left:955px;top:520px;width:12px;height:19px"></div>
<div class="t r" style="left:968px;top:520px;width:11px;height:19px"></div>
<div class="t r" style="left:955px;top:540px;width:12px;height:17px"></div>
<div class="t r" style="left:968px;top:540px;width:11px;height:9px"></div>
<div class="t r" style="left:968px;top:550px;width:11px;height:7px"></div>

<!-- S22 -->
<div class="t k" style="left:981px;top:520px;width:51px;height:37px"><span>وايران</span></div>
<div class="t k" style="left:1034px;top:520px;width:14px;height:17px"></div>
<div class="t n" style="left:1049px;top:520px;width:13px;height:17px"></div>
<div class="t r" style="left:1034px;top:538px;width:28px;height:9px"></div>
<div class="t m" style="left:1034px;top:548px;width:19px;height:9px"></div>
<div class="t r" style="left:1054px;top:548px;width:8px;height:9px"></div>

<!-- S23 -->
<div class="t b" style="left:884px;top:582px;width:60px;height:42px;font-size:6px"><span>بملی</span><span>-3%</span></div>

<!-- S24 -->
<div class="t r" style="left:946px;top:582px;width:35px;height:21px"></div>
<div class="t r" style="left:982px;top:582px;width:23px;height:21px"></div>
<div class="t r" style="left:946px;top:604px;width:35px;height:20px"></div>
<div class="t r" style="left:982px;top:604px;width:23px;height:11px"></div>
<div class="t r" style="left:982px;top:616px;width:23px;height:8px"></div>

<!-- S25 -->
<div class="t r" style="left:1007px;top:582px;width:31px;height:42px"></div>
<div class="t r" style="left:1039px;top:582px;width:23px;height:24px"></div>
<div class="t b" style="left:1039px;top:607px;width:12px;height:17px"></div>
<div class="t r" style="left:1052px;top:607px;width:10px;height:17px"></div>

<!-- S26 -->
<div class="t b" style="left:801px;top:609px;width:26px;height:35px"></div>
<div class="t r" style="left:828px;top:609px;width:29px;height:24px"></div>
<div class="t r" style="left:858px;top:609px;width:23px;height:24px"></div>
<div class="t r" style="left:801px;top:645px;width:26px;height:24px"></div>
<div class="t r" style="left:828px;top:634px;width:29px;height:17px"></div>
<div class="t r" style="left:858px;top:634px;width:23px;height:17px"></div>
<div class="t r" style="left:828px;top:652px;width:29px;height:17px"></div>
<div class="t r" style="left:858px;top:652px;width:11px;height:17px"></div>
<div class="t r" style="left:870px;top:652px;width:11px;height:17px"></div>

<!-- S27 -->
<div class="t m" style="left:801px;top:696px;width:22px;height:51px"><span>آپ</span></div>
<div class="t g" style="left:824px;top:696px;width:30px;height:29px"></div>
<div class="t g" style="left:855px;top:696px;width:26px;height:13px"></div>
<div class="t n" style="left:855px;top:710px;width:26px;height:15px"></div>
<div class="t r" style="left:824px;top:726px;width:30px;height:21px"></div>
<div class="t r" style="left:855px;top:726px;width:12px;height:11px"></div>
<div class="t r" style="left:868px;top:726px;width:13px;height:11px"></div>
<div class="t r" style="left:855px;top:738px;width:26px;height:9px"></div>

<!-- S28 -->
<div class="t g" style="left:884px;top:650px;width:22px;height:47px"><span>کيا</span></div>
<div class="t r" style="left:907px;top:650px;width:24px;height:21px"></div>
<div class="t r" style="left:907px;top:672px;width:12px;height:25px"></div>
<div class="t r" style="left:920px;top:672px;width:11px;height:25px"></div>

<!-- S29..S37 -->
<div class="t n" style="left:934px;top:650px;width:39px;height:17px"></div>
<div class="t n" style="left:974px;top:650px;width:10px;height:17px"></div>
<div class="t r" style="left:986px;top:650px;width:18px;height:19px"></div>
<div class="t d" style="left:1005px;top:650px;width:9px;height:19px"></div>
<div class="t r" style="left:1015px;top:650px;width:10px;height:19px"></div>
<div class="t r" style="left:1027px;top:650px;width:35px;height:19px"></div>
<div class="t m" style="left:934px;top:694px;width:39px;height:13px"></div>
<div class="t r" style="left:974px;top:694px;width:10px;height:13px"></div>
<div class="t r" style="left:986px;top:694px;width:26px;height:22px"></div>
<div class="t r" style="left:1013px;top:694px;width:12px;height:12px"></div>
<div class="t r" style="left:1013px;top:707px;width:12px;height:9px"></div>
<div class="t n" style="left:884px;top:722px;width:32px;height:25px"></div>
<div class="t r" style="left:917px;top:722px;width:14px;height:25px"></div>
<div class="t r" style="left:934px;top:734px;width:31px;height:13px"></div>
<div class="t r" style="left:966px;top:734px;width:18px;height:13px"></div>
<div class="t r" style="left:986px;top:740px;width:39px;height:7px"></div>

</body></html>
